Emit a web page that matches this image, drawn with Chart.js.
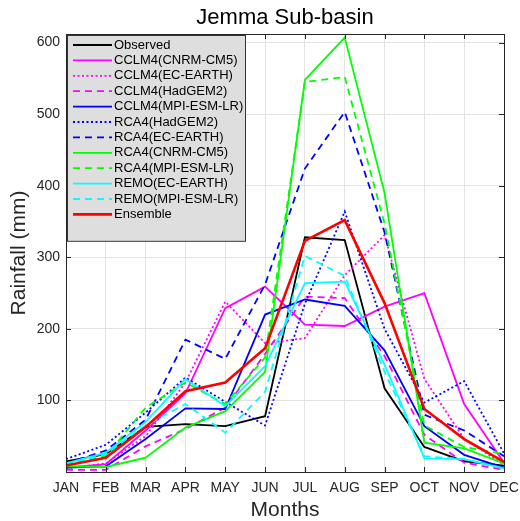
<!DOCTYPE html>
<html>
<head>
<meta charset="utf-8">
<script src="https://cdn.jsdelivr.net/npm/chart.js@4.4.1/dist/chart.umd.min.js"></script>
<style>
  html, body { margin: 0; padding: 0; background: #fff; }
  #wrap { width: 520px; height: 521px; }
</style>
</head>
<body>
<div id="wrap"><canvas id="chart"></canvas></div>
<script>
const months = ['JAN', 'FEB', 'MAR', 'APR', 'MAY', 'JUN', 'JUL', 'AUG', 'SEP', 'OCT', 'NOV', 'DEC'];

// monthly rainfall (mm)
const observed      = [15, 25, 63, 67, 64, 78, 328, 324, 117, 35, 15, 9];
const cclmCnrm      = [6, 11, 58, 110, 229, 259, 206, 204, 231, 250, 95, 13];
const cclmEcEarth   = [5, 12, 50, 125, 238, 180, 187, 275, 331, 130, 46, 10];
const cclmHadgem    = [3, 3, 36, 60, 90, 165, 245, 243, 162, 52, 13, 3];
const cclmMpi       = [6, 8, 46, 89, 88, 220, 241, 232, 170, 64, 24, 6];
const rcaHadgem     = [18, 38, 83, 132, 98, 65, 235, 364, 200, 97, 127, 26];
const rcaEcEarth    = [12, 30, 73, 185, 158, 262, 424, 503, 335, 80, 58, 22];
const rcaCnrm       = [8, 7, 20, 62, 85, 140, 548, 607, 390, 41, 33, 12];
const rcaMpi        = [10, 22, 90, 125, 95, 160, 545, 552, 347, 65, 35, 25];
const remoEcEarth   = [12, 27, 70, 130, 92, 148, 264, 266, 150, 19, 18, 5];
const remoMpi       = [10, 25, 65, 95, 55, 112, 302, 274, 140, 22, 18, 5];
const ensemble      = [9, 20, 63, 113, 125, 173, 323, 352, 236, 88, 46, 14];

const yTicks = [100, 200, 300, 400, 500, 600];

const FONT = "'Liberation Sans', Arial, sans-serif";
const DASH = [7, 5];
const DOT = [2, 2.5];

const series = [
  { label: 'Observed', data: observed, color: '#000000', dash: [] },
  { label: 'CCLM4(CNRM-CM5)', data: cclmCnrm, color: '#ff00ff', dash: [] },
  { label: 'CCLM4(EC-EARTH)', data: cclmEcEarth, color: '#ff00ff', dash: DOT },
  { label: 'CCLM4(HadGEM2)', data: cclmHadgem, color: '#ff00ff', dash: DASH },
  { label: 'CCLM4(MPI-ESM-LR)', data: cclmMpi, color: '#0000ff', dash: [] },
  { label: 'RCA4(HadGEM2)', data: rcaHadgem, color: '#0000ff', dash: DOT },
  { label: 'RCA4(EC-EARTH)', data: rcaEcEarth, color: '#0000ff', dash: DASH },
  { label: 'RCA4(CNRM-CM5)', data: rcaCnrm, color: '#00ff00', dash: [] },
  { label: 'RCA4(MPI-ESM-LR)', data: rcaMpi, color: '#00ff00', dash: DASH },
  { label: 'REMO(EC-EARTH)', data: remoEcEarth, color: '#00ffff', dash: [] },
  { label: 'REMO(MPI-ESM-LR)', data: remoMpi, color: '#00ffff', dash: DASH },
  { label: 'Ensemble', data: ensemble, color: '#ff0000', dash: [], width: 2.6 },
];

const datasets = series.map((s, i) => ({
  label: s.label,
  data: s.data,
  borderColor: s.color,
  backgroundColor: s.color,
  borderDash: s.dash,
  borderWidth: s.width ?? 1.8,
  pointRadius: 0,
  tension: 0,
  fill: false,
  // later series sit on top, as in the original plot
  order: series.length - i,
}));

// axes box, inward tick marks and the legend panel
const frame = {
  id: 'frame',
  afterDraw(chart) {
    const { ctx, chartArea: a, scales } = chart;
    ctx.save();
    ctx.strokeStyle = '#262626';
    ctx.lineWidth = 1;
    ctx.setLineDash([]);
    ctx.beginPath();
    months.forEach((m, i) => {
      const x = Math.round(scales.x.getPixelForValue(i)) + 0.5;
      ctx.moveTo(x, a.bottom); ctx.lineTo(x, a.bottom - 5);
      ctx.moveTo(x, a.top); ctx.lineTo(x, a.top + 5);
    });
    yTicks.forEach((v) => {
      const y = Math.round(scales.y.getPixelForValue(v)) + 0.5;
      ctx.moveTo(a.left, y); ctx.lineTo(a.left + 5, y);
      ctx.moveTo(a.right, y); ctx.lineTo(a.right - 5, y);
    });
    ctx.stroke();
    ctx.strokeRect(Math.round(a.left) + 0.5, Math.round(a.top) + 0.5,
      Math.round(a.right - a.left), Math.round(a.bottom - a.top));

    // legend
    const lx = a.left + 1, ly = a.top + 1, lw = 178, rowH = 15.4;
    const lh = rowH * datasets.length + 21;
    ctx.fillStyle = '#dedede';
    ctx.fillRect(lx, ly, lw, lh);
    ctx.strokeStyle = '#333';
    ctx.strokeRect(lx + 0.5, ly + 0.5, lw, lh);
    ctx.font = '13px ' + FONT;
    ctx.textBaseline = 'middle';
    ctx.textAlign = 'left';
    chart.data.datasets.forEach((d, i) => {
      const y = ly + 10 + i * rowH;
      ctx.beginPath();
      ctx.strokeStyle = d.borderColor;
      ctx.lineWidth = d.borderWidth;
      ctx.setLineDash(d.borderDash);
      ctx.moveTo(lx + 6, y); ctx.lineTo(lx + 45, y);
      ctx.stroke();
      ctx.setLineDash([]);
      ctx.fillStyle = '#000';
      ctx.fillText(d.label, lx + 47, y);
    });
    ctx.restore();
  },
};

new Chart(document.getElementById('chart'), {
  type: 'line',
  data: { labels: months, datasets },
  plugins: [frame],
  options: {
    responsive: true,
    maintainAspectRatio: false,
    animation: false,
    layout: { padding: 0 },
    plugins: {
      legend: { display: false },
      tooltip: { enabled: false },
      title: {
        display: true,
        fullSize: false,
        text: 'Jemma Sub-basin',
        color: '#000',
        font: { family: FONT, size: 22, weight: 'normal', lineHeight: 1.2 },
        padding: { top: 5, bottom: 2.6 },
      },
    },
    scales: {
      x: {
        offset: false,
        grid: { color: '#e3e3e3', drawTicks: false },
        border: { display: false },
        ticks: { color: '#262626', font: { family: FONT, size: 14 }, padding: 8, maxRotation: 0, autoSkip: false },
        title: {
          display: true,
          text: 'Months',
          color: '#262626',
          font: { family: FONT, size: 21, lineHeight: 1 },
          padding: { top: 0, bottom: 0 },
        },
        afterFit(scale) {
          scale.height = 49;
          scale.paddingLeft = 0;
          scale.paddingRight = 16;
        },
      },
      y: {
        min: 0,
        max: 612,
        grid: { color: '#e3e3e3', drawTicks: false },
        border: { display: false },
        ticks: {
          stepSize: 100,
          includeBounds: false,
          color: '#262626',
          font: { family: FONT, size: 14 },
          padding: 6,
          callback: (v) => (v === 0 ? '' : v),
        },
        title: {
          display: true,
          text: 'Rainfall (mm)',
          color: '#262626',
          font: { family: FONT, size: 21, lineHeight: 1.2 },
          padding: { top: 7, bottom: 0 },
        },
        afterFit(scale) { scale.width = 66; },
      },
    },
  },
});
</script>
</body>
</html>
